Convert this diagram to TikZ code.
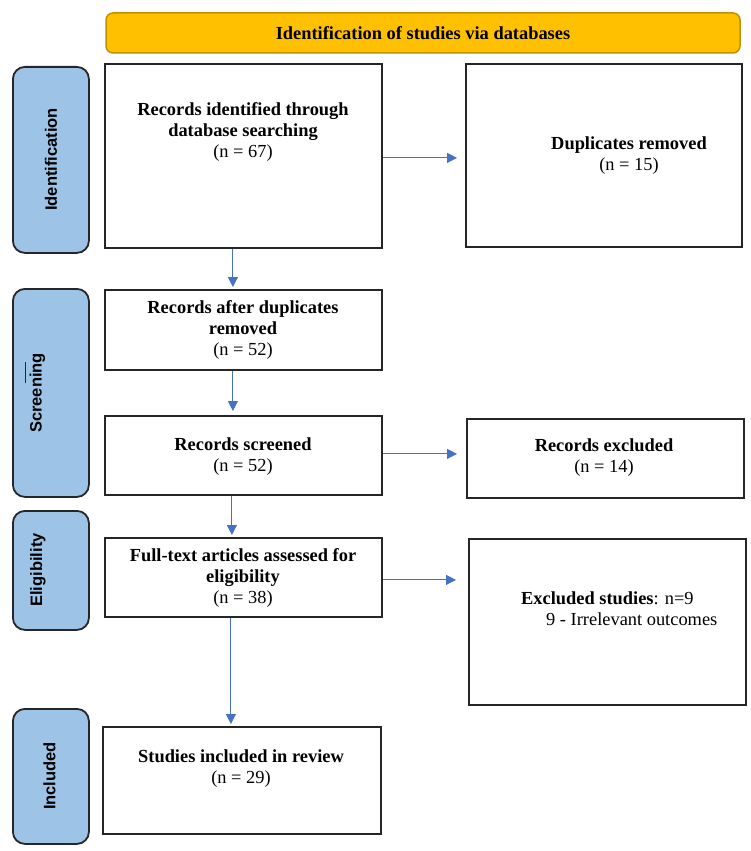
\documentclass[tikz,border=0pt]{standalone}
\usepackage{fontspec}
\setmainfont{Liberation Serif}
\newfontfamily\sidefont{Liberation Sans}
\usetikzlibrary{arrows.meta}
\definecolor{sideblue}{HTML}{9DC3E6}
\definecolor{bannerfill}{HTML}{FFC000}
\definecolor{bannerdraw}{HTML}{C09000}
\definecolor{arrowblue}{HTML}{4472C4}
\begin{document}
\begin{tikzpicture}[x=1pt,y=-1pt,
  box/.style={draw=black!85, line width=1.8pt, inner sep=0pt, anchor=north west},
  side/.style={draw=black!85, fill=sideblue, line width=1.8pt, rounded corners=12pt,
    inner sep=0pt, anchor=north west},
  sidetext/.style={rotate=90, inner sep=0pt, font=\sidefont\bfseries\fontsize{16.5}{18}\selectfont},
  txt/.style={align=center, inner sep=0pt, font=\fontsize{18.4}{21}\selectfont},
  arr/.style={draw=arrowblue, line width=0.9pt, -{Triangle[length=10pt,width=10pt]}, arrowblue}
]
\useasboundingbox (0,0) rectangle (750,851);

% banner
\node[draw=bannerdraw, fill=bannerfill, line width=1.5pt, rounded corners=7pt,
  minimum width=634pt, minimum height=40pt, inner sep=0pt,
  font=\bfseries\fontsize{18.4}{21}\selectfont] (banner) at (423,33) {Identification of studies via databases};

% side labels
\node[side, minimum width=76pt, minimum height=186pt] (s1) at (12,66) {};
\node[side, minimum width=76pt, minimum height=208pt] (s2) at (12,288) {};
\node[side, minimum width=76pt, minimum height=119pt] (s3) at (12,510) {};
\node[side, minimum width=76pt, minimum height=135pt] (s4) at (12,708) {};
\node[sidetext] (l1) at (51,159.5) {Identification};
\node[sidetext] (l2) at (37.5,393) {Screening};
\node[sidetext] (l3) at (38,570) {Eligibility};
\node[sidetext] (l4) at (49.5,776) {Included};
\draw[line width=0.8pt, black!85] (25,362) -- (25,383);

% boxes
\node[box, minimum width=277pt, minimum height=184pt] (b1) at (104,63) {};
\node[box, minimum width=276pt, minimum height=183pt] (dup) at (465,63) {};
\node[box, minimum width=277pt, minimum height=80pt] (b2) at (104,289) {};
\node[box, minimum width=277pt, minimum height=79pt] (b3) at (104,415) {};
\node[box, minimum width=277pt, minimum height=79pt] (ex1) at (466,418) {};
\node[box, minimum width=277pt, minimum height=79pt] (b4) at (104,537) {};
\node[box, minimum width=277pt, minimum height=166pt] (ex2) at (468,538) {};
\node[box, minimum width=278pt, minimum height=107pt] (b5) at (102,726) {};

% texts
\node[txt] (t1) at (243,132) {\bfseries Records identified through\\\bfseries database searching\\(n = 67)};
\node[txt] (t2) at (629,156) {\bfseries Duplicates removed\\(n = 15)};
\node[txt] (t3) at (243,330) {\bfseries Records after duplicates\\\bfseries removed\\(n = 52)};
\node[txt] (t4) at (243,457) {\bfseries Records screened\\(n = 52)};
\node[txt] (t5) at (604,458) {\bfseries Records excluded\\(n = 14)};
\node[txt] (t6) at (243,578) {\bfseries Full-text articles assessed for\\\bfseries eligibility\\(n = 38)};
\node[txt, align=left, anchor=west] (t7) at (521,609) {\textbf{Excluded studies}: n=9\\\hspace*{25pt}9 - Irrelevant outcomes};
\node[txt] (t8) at (241,769) {\bfseries Studies included in review\\(n = 29)};

% arrows
\draw[arr, shorten >=8pt] ([yshift=-2pt]b1.east) -- ([yshift=-2pt]b1.east -| dup.west);
\draw[arr, shorten >=2pt] ([xshift=-10.5pt]b1.south) -- ([xshift=-10.5pt]b2.north);
\draw[arr, shorten >=4pt] ([xshift=-10.5pt]b2.south) -- ([xshift=-10.5pt]b3.north);
\draw[arr, shorten >=9pt] ([yshift=1.5pt]b3.east) -- ([yshift=1.5pt]b3.east -| ex1.west);
\draw[arr, shorten >=2pt] ([xshift=-11.5pt]b3.south) -- ([xshift=-11.5pt]b4.north);
\draw[arr, shorten >=12pt] ([yshift=-2.5pt]b4.east) -- ([yshift=-2.5pt]b4.east -| ex2.west);
\draw[arr, shorten >=2pt] ([xshift=-12.5pt]b4.south) -- ([xshift=-12.5pt]b4.south |- b5.north);
\end{tikzpicture}
\end{document}
